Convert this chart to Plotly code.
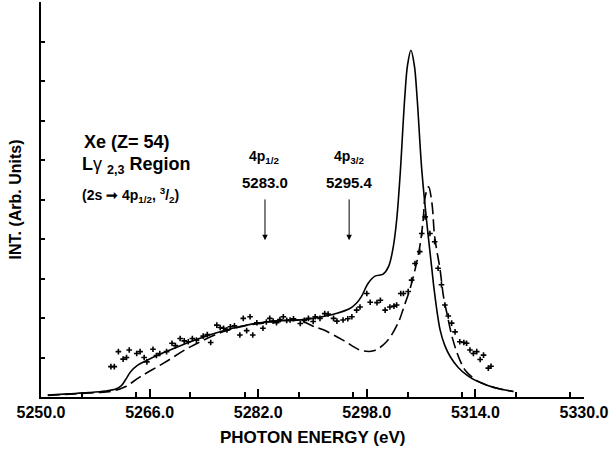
import plotly.graph_objects as go

# Solid curve
solid_x = [5251.0, 5254.0, 5257.0, 5259.5, 5261.0, 5261.8, 5262.5, 5263.2, 5264.2, 5265.5,
           5267.5, 5270.0, 5273.0, 5276.5, 5280.0, 5283.7, 5288.6, 5291.0, 5293.6, 5295.5,
           5296.5, 5297.2, 5298.2, 5299.2, 5300.4, 5301.2, 5301.9, 5302.4, 5302.9, 5303.6,
           5304.0, 5304.5, 5305.0, 5305.4, 5306.1, 5306.8, 5307.6, 5307.9, 5308.8, 5309.5,
           5310.3, 5311.5, 5312.7, 5314.0, 5315.7, 5317.5, 5319.6]
solid_y = [0.05, 0.08, 0.11, 0.15, 0.20, 0.28, 0.45, 0.64, 0.80, 0.92,
           1.08, 1.26, 1.46, 1.66, 1.81, 1.91, 1.96, 2.02, 2.12, 2.24,
           2.38, 2.54, 2.88, 3.06, 3.11, 3.30, 3.80, 4.48, 5.60, 7.60,
           8.40, 8.78, 8.40, 7.60, 5.75, 4.48, 3.22, 2.75, 1.70, 1.30,
           1.02, 0.74, 0.56, 0.42, 0.30, 0.21, 0.14]

# Dashed curve
dashed_x = [5251.0, 5255.0, 5258.0, 5260.5, 5262.4, 5264.6, 5268.0, 5272.0, 5276.8, 5280.0,
            5282.7, 5285.5, 5287.7, 5288.6, 5290.0, 5291.6, 5294.5, 5297.0, 5299.0, 5300.9,
            5302.6, 5303.5, 5304.3, 5305.1, 5305.8, 5306.3, 5306.6, 5307.1, 5307.6, 5308.0,
            5308.8, 5309.3, 5309.8, 5310.7, 5311.7, 5312.5, 5314.0, 5315.7, 5317.5, 5319.6]
dashed_y = [0.04, 0.08, 0.11, 0.15, 0.26, 0.51, 0.85, 1.27, 1.65, 1.80,
            1.87, 1.93, 1.95, 1.91, 1.80, 1.70, 1.44, 1.19, 1.17, 1.40,
            1.87, 2.30, 2.70, 3.22, 3.80, 4.48, 5.07, 5.32, 4.90, 4.06,
            3.22, 2.54, 2.12, 1.44, 0.94, 0.68, 0.44, 0.30, 0.21, 0.14]

# Experimental points
pts_x = [5260.3, 5260.8, 5261.4, 5262.1, 5262.6, 5263.0, 5264.1, 5264.6, 5265.2, 5265.6,
         5266.5, 5267.0, 5267.5, 5268.5, 5269.3, 5269.8, 5270.5, 5271.1, 5271.7, 5272.3,
         5272.9, 5273.9, 5274.5, 5275.0, 5275.9, 5276.4, 5276.9, 5277.4, 5277.9, 5278.5,
         5279.3, 5279.8, 5280.3, 5280.8, 5281.2, 5281.8, 5282.7, 5283.2, 5283.7, 5284.2,
         5284.7, 5285.2, 5285.7, 5286.2, 5286.7, 5287.2, 5288.2, 5288.8, 5289.4, 5290.1,
         5290.4, 5291.1, 5291.8, 5292.3, 5293.1, 5293.6, 5294.5, 5295.2, 5295.8, 5296.5,
         5297.0, 5298.0, 5298.5, 5299.5, 5300.0, 5300.7, 5301.4, 5302.0, 5302.4, 5303.0,
         5303.4, 5304.1, 5304.6, 5305.1, 5305.8, 5306.1, 5306.6, 5307.3, 5308.0, 5308.5,
         5309.0, 5309.5, 5310.0, 5310.5, 5311.0, 5311.7, 5312.3, 5312.7, 5313.2, 5313.7,
         5314.2, 5314.7, 5315.2, 5315.9, 5316.3]
pts_y = [0.77, 0.77, 1.15, 0.96, 1.00, 1.19, 1.10, 1.15, 1.00, 0.89,
         1.21, 1.05, 1.10, 1.15, 1.36, 1.30, 1.48, 1.42, 1.40, 1.48,
         1.44, 1.54, 1.58, 1.38, 1.82, 1.76, 1.74, 1.70, 1.78, 1.80,
         1.57, 1.99, 1.68, 2.03, 1.57, 1.88, 1.74, 1.90, 1.99, 1.92,
         1.88, 1.96, 2.03, 1.94, 1.95, 1.98, 1.86, 1.94, 1.99, 1.91,
         2.03, 1.99, 2.11, 2.10, 1.99, 1.92, 1.95, 1.98, 2.03, 2.20,
         2.28, 2.62, 2.40, 2.39, 2.45, 2.20, 2.28, 2.30, 2.33, 2.62,
         2.62, 2.67, 2.96, 3.38, 3.68, 4.14, 4.56, 4.14, 3.93, 3.26,
         2.84, 2.33, 2.05, 1.87, 1.65, 1.40, 1.38, 1.36, 1.19, 1.10,
         1.15, 0.95, 1.06, 0.73, 0.78]

# Level markers
level_x = [5283.0, 5295.4]
level_names = ["4p<sub>1/2</sub>", "4p<sub>3/2</sub>"]
level_labels = ["5283.0", "5295.4"]

FONT = "Liberation Sans, Arial, Helvetica, sans-serif"

fig = go.Figure()
fig.add_trace(go.Scatter(x=solid_x, y=solid_y, mode="lines", line_shape="spline",
                         line=dict(color="black", width=1.6), showlegend=False))
fig.add_trace(go.Scatter(x=dashed_x, y=dashed_y, mode="lines", line_shape="spline",
                         line=dict(color="black", width=1.6, dash="12px,5px"), showlegend=False))
fig.add_trace(go.Scatter(x=pts_x, y=pts_y, mode="markers",
                         marker=dict(symbol="cross-thin-open", size=4, color="black",
                                     line=dict(color="black", width=1.6)),
                         showlegend=False))

ann = []
for lx, nm, lb in zip(level_x, level_names, level_labels):
    ann.append(dict(x=lx, y=6.08, xref="x", yref="y", text="<b>" + nm + "</b>", showarrow=False,
                    font=dict(family=FONT, size=14, color="black")))
    ann.append(dict(x=lx, y=5.42, xref="x", yref="y", text="<b>" + lb + "</b>", showarrow=False,
                    font=dict(family=FONT, size=15, color="black")))
    ann.append(dict(x=lx, y=3.97, xref="x", yref="y", ax=lx, ay=5.04, axref="x", ayref="y",
                    text="", showarrow=True, arrowhead=2, arrowsize=1.1, arrowwidth=1,
                    arrowcolor="black"))

ann.append(dict(x=5256.0, y=6.46, xref="x", yref="y", xanchor="left", showarrow=False,
                text="<b>Xe (Z= 54)</b>", font=dict(family=FONT, size=18, color="black")))
ann.append(dict(x=5255.8, y=5.87, xref="x", yref="y", xanchor="left", showarrow=False,
                text="<b>L</b>γ <sub><b>2,3</b></sub> <b>Region</b>",
                font=dict(family=FONT, size=18, color="black")))
ann.append(dict(x=5255.8, y=5.11, xref="x", yref="y", xanchor="left", showarrow=False,
                text="<b>(2s ➞ 4p<sub>1/2</sub>, <sup>3</sup>/<sub>2</sub>)</b>",
                font=dict(family=FONT, size=14, color="black")))
ann.append(dict(x=0, y=0.5, xref="paper", yref="paper", xshift=-26, textangle=-90,
                xanchor="center", yanchor="middle",
                showarrow=False, text="<b>INT. (Arb. Units)</b>",
                font=dict(family=FONT, size=16, color="black")))
ann.append(dict(x=0.5, y=0, xref="paper", yref="paper", yshift=-40,
                xanchor="center", yanchor="middle",
                showarrow=False, text="<b>PHOTON ENERGY (eV)</b>",
                font=dict(family=FONT, size=17, color="black")))

fig.update_layout(
    width=613, height=450,
    margin=dict(l=41, r=29, t=2, b=53, autoexpand=False),
    paper_bgcolor="white", plot_bgcolor="white",
    font=dict(family=FONT, color="black"),
    annotations=ann,
    xaxis=dict(range=[5250, 5330], dtick=16, tick0=5250, tickformat=".1f",
               automargin=False,
               showline=True, linecolor="black", linewidth=2, mirror=False,
               ticks="inside", ticklen=8, tickwidth=1.5, tickcolor="black",
               minor=dict(dtick=8, ticks="inside", ticklen=5, tickwidth=1.5, tickcolor="black"),
               showgrid=False, zeroline=False,
               tickfont=dict(family=FONT, size=16, color="black", weight="bold")),
    yaxis=dict(range=[0, 10], dtick=1, tick0=0, showticklabels=False, automargin=False,
               showline=True, linecolor="black", linewidth=2,
               ticks="inside", ticklen=4, tickwidth=1.5, tickcolor="black",
               showgrid=False, zeroline=False),
)

fig.write_html("out.html", config={"displayModeBar": False},
               post_script="document.body.style.margin='0';document.body.style.padding='0';")
